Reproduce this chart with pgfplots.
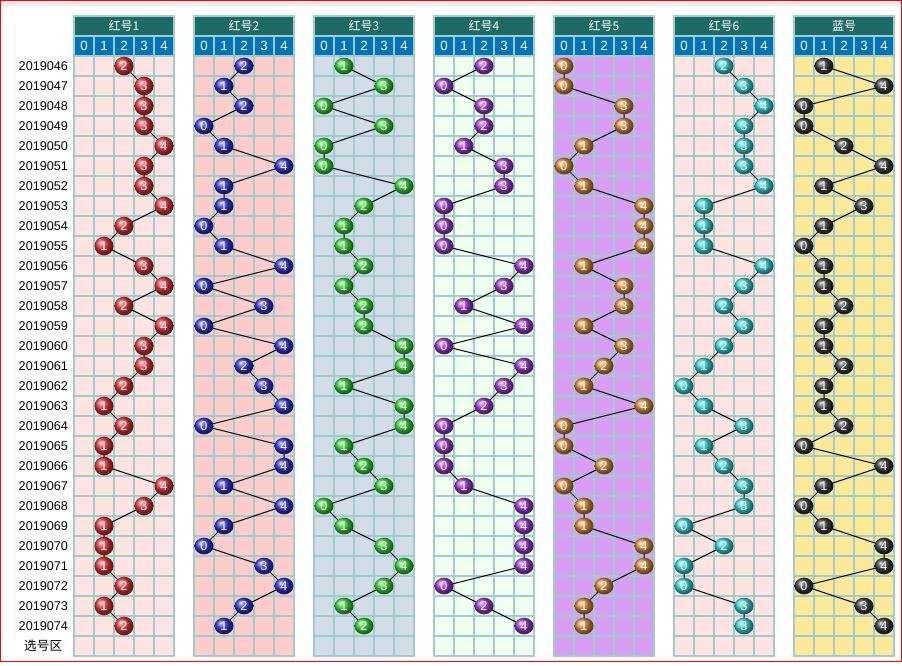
\documentclass[border=0pt]{standalone}
\usepackage{fontspec}
\setmainfont{Liberation Sans}
\newfontfamily\cjk{Noto Sans CJK SC}
\usepackage{pgfplots}
\usepackage{pgfplotstable}
\pgfplotsset{compat=1.18}
\usetikzlibrary{shapes.geometric}

\definecolor{gridc}{HTML}{9FCCCC}
\definecolor{titlec}{HTML}{1E6B66}
\definecolor{headc}{HTML}{0073B6}
\definecolor{bgA}{HTML}{FFE4E1}
\definecolor{bgB}{HTML}{FFCCCC}
\definecolor{bgC}{HTML}{D3DDE8}
\definecolor{bgD}{HTML}{F0FFF0}
\definecolor{bgE}{HTML}{D99EF3}
\definecolor{bgF}{HTML}{FFE4E1}
\definecolor{bgG}{HTML}{FDE99A}
\definecolor{bA}{HTML}{E03236}
\definecolor{bB}{HTML}{3434D0}
\definecolor{bC}{HTML}{38D038}
\definecolor{bD}{HTML}{A038D0}
\definecolor{bE}{HTML}{D88A38}
\definecolor{bF}{HTML}{38D4D4}
\definecolor{bG}{HTML}{3A3A3A}

\pgfplotstableread{
row p1 p2 p3 p4 p5 p6 p7
46 2 2 1 2 0 2 1
47 3 1 3 0 0 3 4
48 3 2 0 2 3 4 0
49 3 0 3 2 3 3 0
50 4 1 0 1 1 3 2
51 3 4 0 3 0 3 4
52 3 1 4 3 1 4 1
53 4 1 2 0 4 1 3
54 2 0 1 0 4 1 1
55 1 1 1 0 4 1 0
56 3 4 2 4 1 4 1
57 4 0 1 3 3 3 1
58 2 3 2 1 3 2 2
59 4 0 2 4 1 3 1
60 3 4 4 0 3 2 1
61 3 2 4 4 2 1 2
62 2 3 1 3 1 0 1
63 1 4 4 2 4 1 1
64 2 0 4 0 0 3 2
65 1 4 1 0 0 1 0
66 1 4 2 0 2 2 4
67 4 1 3 1 0 3 1
68 3 4 0 4 1 3 0
69 1 1 1 4 1 0 1
70 1 0 3 4 4 2 4
71 1 3 4 4 4 0 4
72 2 4 3 0 2 0 0
73 1 2 1 2 1 3 3
74 2 1 2 4 1 3 4
}\data

\pgfplotsset{
  /pgf/number format/assume math mode=true,
  panel/.style={
    scale only axis, width=75pt, height=480pt,
    xmin=-0.5, xmax=4.5, ymin=43.5, ymax=75.5, y dir=reverse,
    xtick={0,1,2,3,4}, xticklabels={},
    ytick={46,...,75}, yticklabels={},
    minor xtick={-0.5,0.5,1.5,2.5,3.5,4.5},
    minor ytick={43.5,44.5,...,75.5},
    xminorgrids=true, yminorgrids=true,
    xmajorgrids=false, ymajorgrids=false,
    every axis grid/.style={draw=gridc, line width=1.6pt},
    every minor grid/.style={draw=gridc, line width=1.6pt},
    major tick length=0pt, minor tick length=0pt,
    axis line style={draw=gridc, line width=1.6pt},
    clip=false, anchor=center,
  },
  ballplot/.style={
    black, line width=0.75pt, mark=none,
    point meta=x,
    nodes near coords={\pgfmathprintnumber{\pgfplotspointmeta}},
    nodes near coords align={center},
    every node near coord/.append style={ellipse, ball color=#1, text=white,
      inner sep=0pt, minimum width=14.25pt, minimum height=12.5pt,
      font=\fontsize{9.5}{10}\selectfont, anchor=center},
  },
}

\newcommand\header[1]{%
  \node[fill=titlec, minimum width=73.5pt, minimum height=13.5pt, inner sep=0pt,
        text=white, font=\cjk\fontsize{9}{10}\selectfont] at (axis cs:2,44) {#1};
  \pgfplotsinvokeforeach{0,...,4}{%
    \node[fill=headc, minimum width=13.5pt, minimum height=13.5pt, inner sep=0pt,
          text=white, font=\fontsize{10}{10}\selectfont] at (axis cs:##1,45) {##1};
  }%
}

\begin{document}
\begin{tikzpicture}[x=0.75pt, y=-0.75pt]
\path[use as bounding box] (0,0) rectangle (902,665);
\fill[white] (0,0) rectangle (902,665);
\fill[black!7] (1,1) rectangle (901,6);
\draw[red, line width=0.75pt] (0.5,0.5) rectangle (901.5,661.5);

\begin{axis}[panel, at={(93pt,-252pt)}, axis background/.style={fill=bgA},
  yticklabels={2019046,2019047,2019048,2019049,2019050,2019051,2019052,2019053,2019054,2019055,2019056,2019057,2019058,2019059,2019060,2019061,2019062,2019063,2019064,2019065,2019066,2019067,2019068,2019069,2019070,2019071,2019072,2019073,2019074,{\cjk 选号区}},
  yticklabel style={font=\fontsize{9.5}{11}\selectfont, anchor=east, inner sep=0pt,
    xshift=-4.5pt, text width=36.75pt, align=center}]
\header{红号1}
\addplot[ballplot=bA, every node near coord/.append style={minimum height=14pt}] table[x=p1, y=row] {\data};
\end{axis}

\begin{axis}[panel, at={(183pt,-252pt)}, axis background/.style={fill=bgB}]
\header{红号2}
\addplot[ballplot=bB] table[x=p2, y=row] {\data};
\end{axis}

\begin{axis}[panel, at={(273pt,-252pt)}, axis background/.style={fill=bgC}]
\header{红号3}
\addplot[ballplot=bC] table[x=p3, y=row] {\data};
\end{axis}

\begin{axis}[panel, at={(363pt,-252pt)}, axis background/.style={fill=bgD}]
\header{红号4}
\addplot[ballplot=bD] table[x=p4, y=row] {\data};
\end{axis}

\begin{axis}[panel, at={(453pt,-252pt)}, axis background/.style={fill=bgE}]
\header{红号5}
\addplot[ballplot=bE] table[x=p5, y=row] {\data};
\end{axis}

\begin{axis}[panel, at={(543pt,-252pt)}, axis background/.style={fill=bgF}]
\header{红号6}
\addplot[ballplot=bF] table[x=p6, y=row] {\data};
\end{axis}

\begin{axis}[panel, at={(633pt,-252pt)}, axis background/.style={fill=bgG}]
\header{蓝号}
\addplot[ballplot=bG] table[x=p7, y=row] {\data};
\end{axis}
\end{tikzpicture}
\end{document}
